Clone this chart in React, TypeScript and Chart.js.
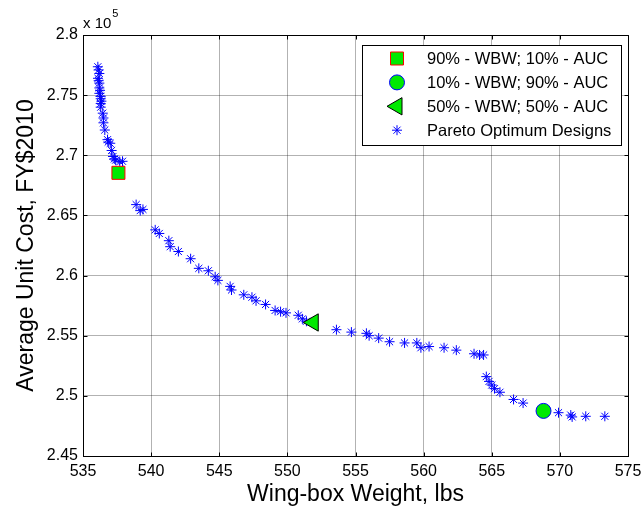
import React, { useEffect, useRef } from 'react';
import { Chart, registerables } from 'chart.js';

Chart.register(...registerables);

// ---- Data ----
const seriesLabels = [
  '90% - WBW; 10% - AUC',
  '10% - WBW; 90% - AUC',
  '50% - WBW; 50% - AUC',
  'Pareto Optimum Designs',
];

// weighted designs: [weight lbs, cost $]
const design90WBW = { x: 537.6, y: 268540 };
const design10WBW = { x: 568.8, y: 248750 };
const design50WBW = { x: 551.9, y: 256100 };

const paretoWeight = [
  536.09, 536.15, 536.2, 536.1, 536.15, 536.2, 536.2, 536.25, 536.2, 536.3,
  536.3, 536.35, 536.3, 536.3, 536.45, 536.5, 536.5, 536.6, 536.8, 536.85,
  537.0, 537.1, 537.2, 537.3, 537.4, 537.7, 537.9,
  538.9, 539.2, 539.4, 540.3, 540.6, 541.3, 541.4, 542.0, 542.9, 543.5,
  544.2, 544.7, 544.9, 545.8, 545.9, 546.8, 547.4, 547.7, 548.4, 549.1,
  549.5, 549.9, 550.8, 551.1, 551.4,
  553.6, 554.7, 555.8, 556.0, 556.7, 557.5, 558.6, 559.5, 559.8, 560.4,
  561.5, 562.4, 563.7, 564.1, 564.4,
  564.6, 564.8, 565.0, 565.2, 565.6, 566.6, 567.3,
  569.9, 570.8, 570.9, 571.9, 573.3,
];
const paretoCostE5 = [
  2.7736, 2.771, 2.768, 2.764, 2.762, 2.760, 2.756, 2.754, 2.7515, 2.749,
  2.747, 2.745, 2.743, 2.740, 2.735, 2.731, 2.727, 2.721, 2.713, 2.711,
  2.710, 2.704, 2.699, 2.697, 2.696, 2.6946, 2.695,
  2.659, 2.654, 2.655, 2.638, 2.635, 2.629, 2.624, 2.620, 2.614, 2.606,
  2.604, 2.599, 2.596, 2.591, 2.588, 2.584, 2.582, 2.579, 2.576, 2.571,
  2.570, 2.569, 2.567, 2.564, 2.562,
  2.555, 2.553, 2.552, 2.550, 2.548, 2.545, 2.544, 2.544, 2.540, 2.541,
  2.540, 2.538, 2.535, 2.534, 2.534,
  2.516, 2.512, 2.509, 2.506, 2.503, 2.497, 2.494,
  2.486, 2.484, 2.4825, 2.483, 2.483,
];

const xTickValues = [535, 540, 545, 550, 555, 560, 565, 570, 575];
const yTickValues = [245000, 250000, 255000, 260000, 265000, 270000, 275000, 280000];

const FONT = '"Liberation Sans", Arial, Helvetica, sans-serif';
const GREEN = '#00ea00';

function drawMarker(ctx: CanvasRenderingContext2D, kind: string, x: number, y: number) {
  ctx.save();
  ctx.lineWidth = 1;
  if (kind === 'rect') {
    ctx.fillStyle = GREEN;
    ctx.strokeStyle = '#ff0000';
    ctx.beginPath();
    ctx.rect(x - 6.5, y - 6.5, 13, 13);
    ctx.fill();
    ctx.stroke();
  } else if (kind === 'circle') {
    ctx.fillStyle = GREEN;
    ctx.strokeStyle = '#0000ff';
    ctx.beginPath();
    ctx.arc(x, y, 7.5, 0, Math.PI * 2);
    ctx.fill();
    ctx.stroke();
  } else if (kind === 'triangle') {
    const r = 10;
    ctx.fillStyle = GREEN;
    ctx.strokeStyle = '#000';
    ctx.beginPath();
    let a = -Math.PI / 2;
    ctx.moveTo(x + Math.sin(a) * r, y - Math.cos(a) * r);
    a += (2 * Math.PI) / 3;
    ctx.lineTo(x + Math.sin(a) * r, y - Math.cos(a) * r);
    a += (2 * Math.PI) / 3;
    ctx.lineTo(x + Math.sin(a) * r, y - Math.cos(a) * r);
    ctx.closePath();
    ctx.fill();
    ctx.stroke();
  } else {
    const r = 5;
    ctx.strokeStyle = '#0000ff';
    ctx.beginPath();
    ctx.moveTo(x - r, y); ctx.lineTo(x + r, y);
    ctx.moveTo(x, y - r); ctx.lineTo(x, y + r);
    const d = r * Math.SQRT1_2;
    ctx.moveTo(x - d, y - d); ctx.lineTo(x + d, y + d);
    ctx.moveTo(x - d, y + d); ctx.lineTo(x + d, y - d);
    ctx.stroke();
  }
  ctx.restore();
}

const framePlugin = {
  id: 'matlabFrame',
  afterDraw(chart: any) {
    const { ctx, chartArea: a, scales } = chart;
    const L = Math.round(a.left) + 0.5;
    const R = Math.round(a.right) + 0.5;
    const T = Math.round(a.top) + 0.5;
    const B = Math.round(a.bottom) + 0.5;
    ctx.save();
    ctx.strokeStyle = '#000';
    ctx.lineWidth = 1;
    ctx.beginPath();
    ctx.moveTo(L, T); ctx.lineTo(R, T); ctx.lineTo(R, B); ctx.lineTo(L, B); ctx.closePath();
    const tl = 4;
    scales.x.ticks.forEach((t: any) => {
      const px = Math.round(scales.x.getPixelForValue(t.value)) + 0.5;
      ctx.moveTo(px, B); ctx.lineTo(px, B - tl);
      ctx.moveTo(px, T); ctx.lineTo(px, T + tl);
    });
    scales.y.ticks.forEach((t: any) => {
      const py = Math.round(scales.y.getPixelForValue(t.value)) + 0.5;
      ctx.moveTo(L, py); ctx.lineTo(L + tl, py);
      ctx.moveTo(R, py); ctx.lineTo(R - tl, py);
    });
    ctx.stroke();
    // exponent label
    ctx.fillStyle = '#000';
    ctx.textBaseline = 'alphabetic';
    ctx.textAlign = 'left';
    ctx.font = `15px ${FONT}`;
    const base = 'x 10';
    ctx.fillText(base, a.left, 28);
    const w = ctx.measureText(base).width;
    ctx.font = `11px ${FONT}`;
    ctx.fillText('5', a.left + w + 1, 17);
    ctx.restore();
  },
};

const legendPlugin = {
  id: 'boxLegend',
  afterDraw(chart: any) {
    const { ctx } = chart;
    const bx = 362.5, by = 45.5, bw = 259, bh = 100;
    ctx.save();
    ctx.fillStyle = '#fff';
    ctx.fillRect(bx, by, bw, bh);
    ctx.strokeStyle = '#000';
    ctx.lineWidth = 1;
    ctx.strokeRect(bx, by, bw, bh);
    const kinds = ['rect', 'circle', 'triangle', 'star'];
    chart.data.datasets.forEach((ds: any, i: number) => {
      const y = 58.5 + i * 23.9;
      drawMarker(ctx, kinds[i], 397, y);
      ctx.fillStyle = '#000';
      ctx.font = `16.5px ${FONT}`;
      ctx.textBaseline = 'middle';
      ctx.textAlign = 'left';
      ctx.fillText(ds.label, 427, y + 1);
    });
    ctx.restore();
  },
};

export default function App() {
  const ref = useRef<HTMLCanvasElement>(null);

  useEffect(() => {
    document.body.style.margin = '0';
    const canvas = ref.current;
    if (!canvas) return;
    const pareto = paretoWeight.map((w, i) => ({ x: w, y: paretoCostE5[i] * 1e5 }));
    const chart = new Chart(canvas, {
      type: 'scatter',
      data: {
        datasets: [
          {
            label: seriesLabels[0],
            data: [design90WBW],
            pointStyle: 'rect',
            pointRadius: 9.2,
            backgroundColor: GREEN,
            borderColor: '#ff0000',
            borderWidth: 1,
          },
          {
            label: seriesLabels[1],
            data: [design10WBW],
            pointStyle: 'circle',
            pointRadius: 7.5,
            backgroundColor: GREEN,
            borderColor: '#0000ff',
            borderWidth: 1,
          },
          {
            label: seriesLabels[2],
            data: [design50WBW],
            pointStyle: 'triangle',
            rotation: -90,
            pointRadius: 10,
            backgroundColor: GREEN,
            borderColor: '#000000',
            borderWidth: 1,
          },
          {
            label: seriesLabels[3],
            data: pareto,
            pointStyle: 'star',
            pointRadius: 5,
            backgroundColor: '#0000ff',
            borderColor: '#0000ff',
            borderWidth: 1,
          },
        ],
      } as any,
      options: {
        responsive: false,
        animation: false,
        devicePixelRatio: 1,
        layout: { padding: { top: 35, right: 14, left: 0, bottom: 0 } },
        plugins: {
          legend: { display: false },
          tooltip: { enabled: false },
        },
        scales: {
          x: {
            type: 'linear',
            min: 535,
            max: 575,
            afterBuildTicks: (s: any) => {
              s.ticks = xTickValues.map((v) => ({ value: v }));
            },
            afterFit: (s: any) => {
              s.height = 54;
              s.paddingLeft = 0;
              s.paddingRight = 0;
            },
            ticks: {
              padding: 6,
              color: '#000',
              font: { family: FONT, size: 16 },
              maxRotation: 0,
              autoSkip: false,
              callback: (v: any) => String(v),
            },
            grid: { color: 'rgba(0,0,0,0.3)', lineWidth: 1, drawTicks: false },
            border: { display: true, color: '#000', width: 1 },
            title: {
              display: true,
              text: 'Wing-box Weight, lbs',
              color: '#000',
              font: { family: FONT, size: 23 },
              padding: { top: 2, bottom: 2 },
            },
          },
          y: {
            type: 'linear',
            min: 245000,
            max: 280000,
            afterBuildTicks: (s: any) => {
              s.ticks = yTickValues.map((v) => ({ value: v }));
            },
            afterFit: (s: any) => {
              s.width = 83;
              s.paddingTop = 0;
              s.paddingBottom = 0;
            },
            ticks: {
              padding: 5,
              color: '#000',
              font: { family: FONT, size: 16 },
              autoSkip: false,
              callback: (v: any) => String(parseFloat((Number(v) / 1e5).toFixed(2))),
            },
            grid: { color: 'rgba(0,0,0,0.3)', lineWidth: 1, drawTicks: false },
            border: { display: true, color: '#000', width: 1 },
            title: {
              display: true,
              text: 'Average Unit Cost, FY$2010',
              color: '#000',
              font: { family: FONT, size: 23 },
              padding: { top: 13, bottom: 13 },
            },
          },
        },
      } as any,
      plugins: [framePlugin, legendPlugin],
    });
    return () => chart.destroy();
  }, []);

  return (
    <div style={{ width: 642, height: 510, background: '#fff' }}>
      <canvas ref={ref} width={642} height={510} style={{ display: 'block' }} />
    </div>
  );
}
